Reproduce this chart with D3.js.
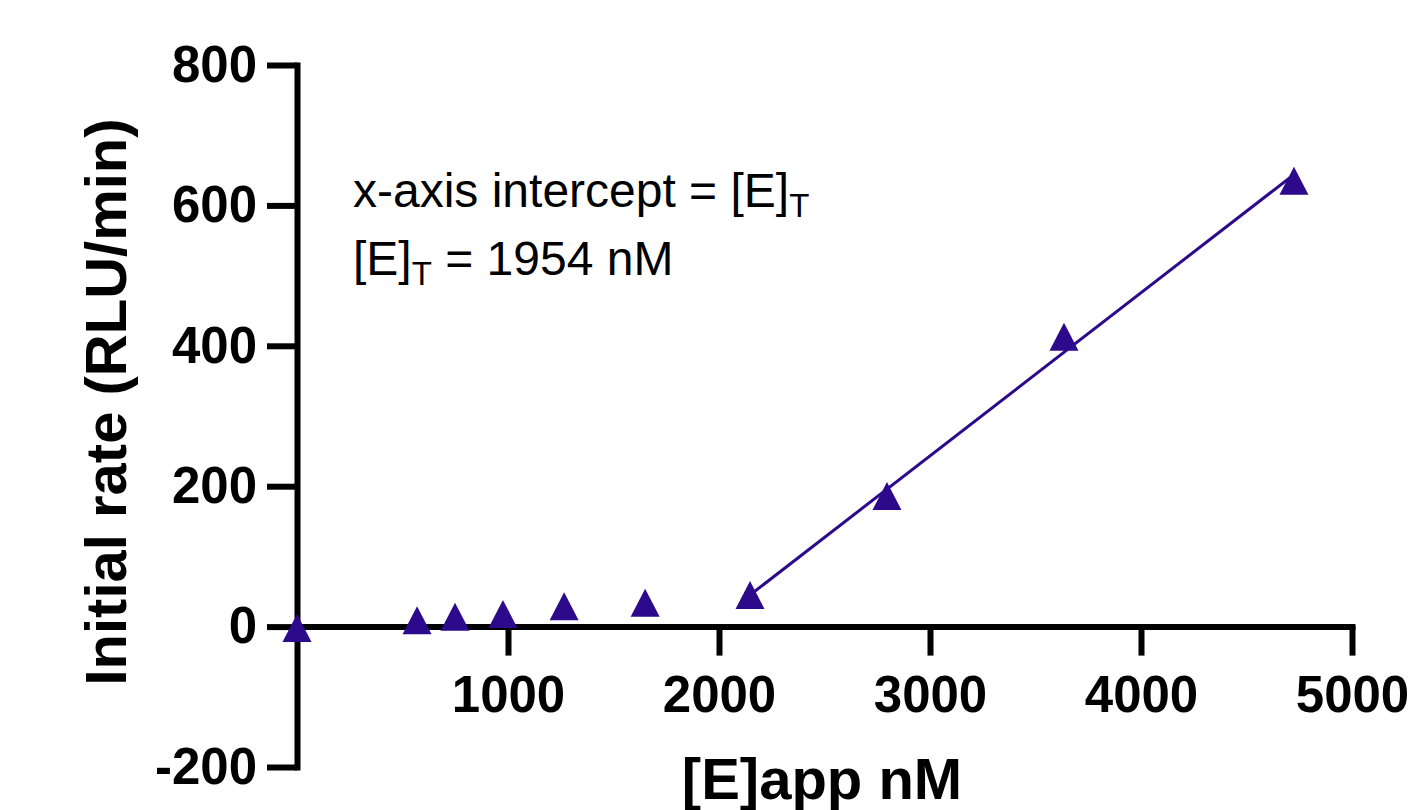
<!DOCTYPE html>
<html>
<head>
<meta charset="utf-8">
<script src="https://cdn.jsdelivr.net/npm/d3@7"></script>
<style>
  body { margin: 0; background: #fff; }
  svg { display: block; font-family: "Liberation Sans", Arial, sans-serif; }
</style>
</head>
<body>
<svg id="chart" width="1409" height="810"></svg>
<script>
'use strict';

// data
const enzymeApp = [0, 569, 749, 976, 1266, 1650, 2147, 2796, 3635, 4725];
const initialRate = [-2, 9, 14, 18, 29, 34, 45, 186, 413, 635];

// linear fit over the last four points (x-intercept = 1954 nM)
const fitX = [2147, 4725];
const fitY = [45, 644];

const xTicks = [1000, 2000, 3000, 4000, 5000];
const yTicks = [-200, 0, 200, 400, 600, 800];

const xLabel = '[E]app nM';
const yLabel = 'Initial rate (RLU/min)';

const color = '#2c0a8b';

const svg = d3.select('#chart');

const x = d3.scaleLinear().domain([0, 5000]).range([297, 1352]);
const y = d3.scaleLinear().domain([-200, 800]).range([767, 65]);

// plain integer labels, hyphen minus, no thousands comma
const plain = function(d) { return String(d); };

// y axis sits on x = 0
const gy = svg.append('g')
    .attr('transform', 'translate(' + x(0) + ',0)')
    .call(d3.axisLeft(y).tickValues(yTicks).tickFormat(plain)
      .tickSize(30).tickSizeOuter(0).tickPadding(10));

// x axis sits on y = 0
const gx = svg.append('g')
    .attr('transform', 'translate(0,' + y(0) + ')')
    .call(d3.axisBottom(x).tickValues(xTicks).tickFormat(plain)
      .tickSize(29).tickSizeOuter(0).tickPadding(20));

[gx, gy].forEach(function(g) {
  g.select('.domain')
    .attr('stroke', '#000')
    .attr('stroke-width', 6)
    .attr('stroke-linecap', 'square');
  g.selectAll('.tick line')
    .attr('stroke', '#000')
    .attr('stroke-width', 6);
  g.selectAll('.tick text')
    .attr('fill', '#000')
    .style('font-size', '51px')
    .style('font-weight', 'bold');
});

// fit line
const fit = fitX.map(function(d, i) { return [d, fitY[i]]; });
svg.append('path')
    .datum(fit)
    .attr('fill', 'none')
    .attr('stroke', color)
    .attr('stroke-width', 3)
    .attr('d', d3.line().x(function(d) { return x(d[0]); }).y(function(d) { return y(d[1]); }));

// triangle markers
const tri = 'M0,-14L14.5,14L-14.5,14Z';
svg.selectAll('.pt')
    .data(enzymeApp)
    .enter().append('path')
    .attr('class', 'pt')
    .attr('d', tri)
    .attr('fill', color)
    .attr('transform', function(d, i) { return 'translate(' + x(d) + ',' + y(initialRate[i]) + ')'; });

// axis titles
svg.append('text')
    .attr('x', 822)
    .attr('y', 799)
    .attr('text-anchor', 'middle')
    .style('font-size', '58px')
    .style('font-weight', 'bold')
    .text(xLabel);

svg.append('text')
    .attr('transform', 'translate(126,402) rotate(-90)')
    .attr('text-anchor', 'middle')
    .style('font-size', '58px')
    .style('font-weight', 'bold')
    .text(yLabel);

// annotation
const note1 = svg.append('text')
    .attr('x', 353)
    .attr('y', 207)
    .style('font-size', '48px');
note1.append('tspan').text('x-axis intercept = [E]');
note1.append('tspan').attr('dy', 10).style('font-size', '33px').text('T');

const note2 = svg.append('text')
    .attr('x', 353)
    .attr('y', 275)
    .style('font-size', '48px');
note2.append('tspan').text('[E]');
note2.append('tspan').attr('dy', 10).style('font-size', '33px').text('T');
note2.append('tspan').attr('dy', -10).text(' = 1954 nM');
</script>
</body>
</html>
